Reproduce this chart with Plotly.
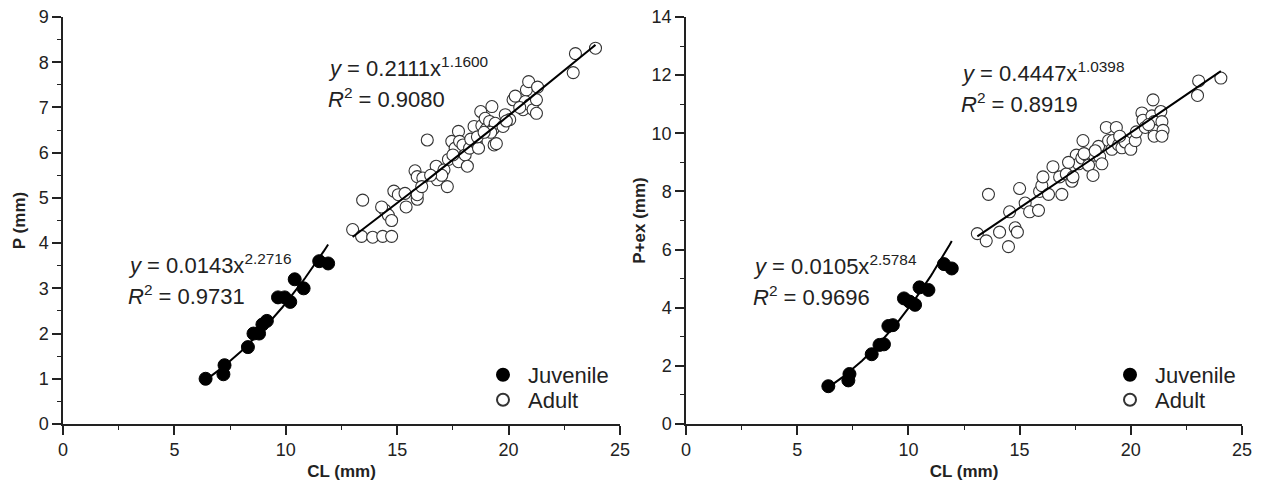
import plotly.graph_objects as go
import numpy as np

# ---------------- data ----------------
# Left panel: P vs CL
juv_cl_p = [6.4, 7.2, 7.25, 8.3, 8.55, 8.8, 8.95, 9.15, 9.65, 9.95, 10.2, 10.4, 10.8, 11.5, 11.9]
juv_p = [1.0, 1.1, 1.3, 1.7, 2.0, 2.0, 2.2, 2.28, 2.8, 2.8, 2.7, 3.2, 3.0, 3.6, 3.55]

adu_cl_p = [13.0, 13.4, 13.45, 13.9, 14.35, 14.75, 14.45, 14.6, 14.75, 14.85, 15.05, 15.4, 15.35,
            15.8, 15.9, 15.9, 15.9, 16.15, 16.1, 16.35, 16.75, 16.8, 17.1, 17.25, 17.3, 17.45,
            17.6, 17.75, 17.8, 17.75, 17.95, 18.05, 18.15, 18.25, 18.45, 18.55, 18.65, 18.75,
            18.8, 18.95, 19.0, 19.15, 19.25, 19.3, 19.35, 19.4, 19.45, 19.75, 19.85, 20.05,
            20.2, 20.3, 20.65, 20.75, 20.8, 20.9, 20.95, 21.1, 21.25, 21.25, 21.3, 22.9, 23.0,
            23.9, 14.3, 17.0, 17.5, 18.3, 18.6, 19.2, 19.9, 20.5, 16.5, 18.9]
adu_p = [4.3, 4.15, 4.95, 4.13, 4.15, 4.15, 4.73, 4.62, 4.5, 5.15, 5.07, 4.8, 5.1,
         5.6, 5.47, 4.97, 5.07, 5.44, 5.25, 6.28, 5.7, 5.4, 5.62, 5.25, 5.85, 6.25,
         6.1, 6.47, 6.25, 5.8, 6.17, 5.95, 5.7, 6.1, 6.58, 6.21, 6.1, 6.91,
         6.6, 6.76, 6.52, 6.69, 7.02, 6.52, 6.17, 6.65, 6.2, 6.58, 6.84, 6.73,
         7.17, 7.25, 6.95, 7.13, 7.39, 7.57, 7.06, 6.95, 7.17, 6.87, 7.45, 7.77, 8.19,
         8.31, 4.8, 5.5, 5.95, 6.3, 6.35, 6.45, 6.7, 7.0, 5.5, 6.45]

# Right panel: P+ex vs CL
juv_cl_pex = [6.4, 7.3, 7.35, 8.35, 8.7, 8.9, 9.1, 9.3, 9.8, 10.05, 10.3, 10.5, 10.9, 11.6, 11.95]
juv_pex = [1.3, 1.5, 1.72, 2.4, 2.72, 2.74, 3.37, 3.4, 4.32, 4.21, 4.1, 4.7, 4.61, 5.5, 5.35]

adu_cl_pex = [13.1, 13.5, 13.6, 14.1, 14.5, 14.8, 14.9, 14.55, 15.0, 15.25, 15.45, 15.85, 15.9,
              16.0, 16.05, 16.3, 16.5, 16.9, 16.8, 17.1, 17.35, 17.4, 17.55, 17.65, 17.8, 17.85,
              18.0, 18.1, 18.3, 18.35, 18.55, 18.6, 18.7, 18.9, 19.0, 19.15, 19.2, 19.35, 19.45,
              19.6, 19.75, 20.0, 20.2, 20.25, 20.5, 20.55, 20.65, 21.0, 20.95, 21.05, 21.05,
              21.05, 21.35, 21.4, 21.45, 21.4, 23.05, 23.0, 24.05, 17.2, 17.9, 18.4, 19.5, 20.8]
adu_pex = [6.55, 6.3, 7.9, 6.6, 6.1, 6.75, 6.6, 7.3, 8.1, 7.6, 7.3, 7.35, 8.0,
           8.2, 8.5, 7.9, 8.85, 7.9, 8.5, 8.6, 8.35, 8.5, 9.25, 8.95, 9.15, 9.75,
           9.25, 8.9, 8.55, 9.25, 9.55, 9.2, 8.95, 10.2, 9.75, 9.45, 9.75, 10.2, 9.6,
           9.5, 9.7, 9.45, 9.75, 10.05, 10.7, 10.45, 10.2, 11.15, 10.6, 10.4, 10.1,
           9.9, 10.75, 10.4, 10.1, 9.9, 11.8, 11.3, 11.9, 9.0, 9.3, 9.4, 9.9, 10.3]

# fitted power-law coefficients (as printed on the chart)
fit_juv_p = (0.0143, 2.2716, 0.9731)
fit_adu_p = (0.2111, 1.1600, 0.9080)
fit_juv_pex = (0.0105, 2.5784, 0.9696)
fit_adu_pex = (0.4447, 1.0398, 0.8919)

x_ticks = [0, 5, 10, 15, 20, 25]

# ---------------- figure ----------------
W, H = 1262, 482
ml, mr, mt, mb = 63, 20, 17, 58
pw = W - ml - mr
fig = go.Figure()

def xd(px0, px1):
    return [(px0 - ml) / pw, (px1 - ml) / pw]

fig.update_layout(
    xaxis=dict(domain=xd(63, 620), anchor="y"),
    yaxis=dict(domain=[0, 1], anchor="x"),
    xaxis2=dict(domain=xd(686, 1242), anchor="y2"),
    yaxis2=dict(domain=[0, 1], anchor="x2"),
)

juv_style = dict(mode="markers", marker=dict(symbol="circle", size=13, color="black",
                                             line=dict(color="black", width=1)))
adu_style = dict(mode="markers", marker=dict(symbol="circle", size=12, color="white",
                                             line=dict(color="#333333", width=1.1)))

def curve(xs, coef):
    a, b, _ = coef
    xx = np.linspace(min(xs), max(xs), 60)
    return xx, a * xx ** b

for (jx, jy, ax_, ay_, fj, fa, xa, ya, lj, la) in [
    (juv_cl_p, juv_p, adu_cl_p, adu_p, fit_juv_p, fit_adu_p, "x", "y", "legend", "legend2"),
    (juv_cl_pex, juv_pex, adu_cl_pex, adu_pex, fit_juv_pex, fit_adu_pex, "x2", "y2", "legend3", "legend4"),
]:
    fig.add_trace(go.Scatter(x=jx, y=jy, name="Juvenile", xaxis=xa, yaxis=ya, legend=lj, **juv_style))
    fig.add_trace(go.Scatter(x=ax_, y=ay_, name="Adult", xaxis=xa, yaxis=ya, legend=la, **adu_style))
    for xs, coef in [(jx, fj), (ax_, fa)]:
        cx, cy = curve(xs, coef)
        fig.add_trace(go.Scatter(x=cx, y=cy, mode="lines", line=dict(color="black", width=2),
                                 showlegend=False, xaxis=xa, yaxis=ya, hoverinfo="skip"))

axis_common = dict(showline=True, linecolor="#222222", linewidth=1.5, ticks="outside",
                   ticklen=9, tickwidth=1.5, tickcolor="#222222", showgrid=False, zeroline=False,
                   tickfont=dict(family="Liberation Sans, Arial", size=18, color="#222222"),
                   mirror=False, automargin=False)
minor_common = dict(ticklen=4, tickwidth=1.2, tickcolor="#222222", ticks="outside")
title_font = dict(family="Liberation Sans, Arial", size=17, color="#222222")

fig.update_xaxes(**axis_common, range=[0, 25], tickvals=x_ticks,
                 minor=dict(dtick=2.5, **minor_common),
                 title=dict(text="<b>CL (mm)</b>", font=title_font, standoff=6))
fig.update_layout(
    yaxis=dict(**axis_common, range=[0, 9], dtick=1, minor=dict(dtick=0.5, **minor_common),
               title=dict(text="<b>P (mm)</b>", font=title_font, standoff=9)),
    yaxis2=dict(**axis_common, range=[0, 14], dtick=2, minor=dict(dtick=1, **minor_common),
                title=dict(text="<b>P+ex (mm)</b>", font=title_font, standoff=2)),
)

def px_x(p):
    return (p - ml) / pw

def px_y(p):
    return 1 - (p - mt) / (H - mt - mb)

ann_font = dict(family="Liberation Sans, Arial", size=22, color="#222222")
eq_positions = [(fit_juv_p, 126, 264), (fit_adu_p, 326, 67),
                (fit_juv_pex, 751, 265), (fit_adu_pex, 959, 72)]
for coef, x0, y0 in eq_positions:
    a, b, r2 = coef
    fig.add_annotation(xref="paper", yref="paper", x=px_x(x0), y=px_y(y0), xanchor="left",
                       yanchor="middle", showarrow=False, font=ann_font,
                       text=f"<i>y</i> = {a:.4f}x<sup>{b:.4f}</sup>")
    fig.add_annotation(xref="paper", yref="paper", x=px_x(x0), y=px_y(y0 + 31), xanchor="left",
                       yanchor="middle", showarrow=False, font=ann_font,
                       text=f"<i>R</i><sup>2</sup> = {r2:.4f}")

leg_common = dict(font=dict(family="Liberation Sans, Arial", size=22, color="#222222"),
                  bgcolor="rgba(0,0,0,0)", xanchor="left", yanchor="middle",
                  itemsizing="constant", tracegroupgap=0, itemwidth=40)
fig.update_layout(
    legend=dict(x=px_x(478), y=px_y(375), **leg_common),
    legend2=dict(x=px_x(478), y=px_y(400), **leg_common),
    legend3=dict(x=px_x(1105), y=px_y(375), **leg_common),
    legend4=dict(x=px_x(1105), y=px_y(400), **leg_common),
)

fig.update_layout(width=W, height=H, margin=dict(l=ml, r=mr, t=mt, b=mb, autoexpand=False),
                  plot_bgcolor="white", paper_bgcolor="white", showlegend=True)

fig.write_html("out.html", config={"displayModeBar": False},
               post_script="document.body.style.margin='0';document.body.style.padding='0';")
